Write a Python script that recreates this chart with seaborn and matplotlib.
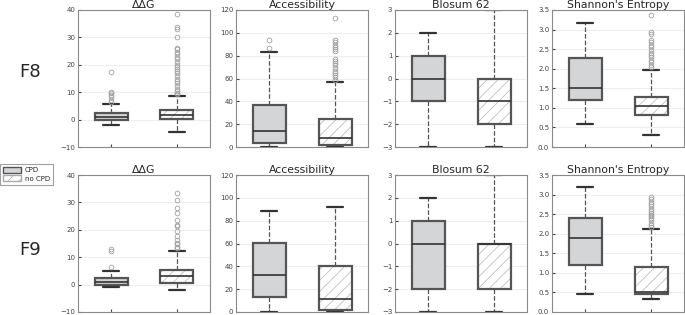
import numpy as np
import matplotlib
matplotlib.use("Agg")
import matplotlib.pyplot as plt
import seaborn as sns
from matplotlib.patches import PathPatch, Patch

# features (columns) and rows
FEATURES = ["\u0394\u0394G", "Accessibility", "Blosum 62", "Shannon's Entropy"]
ROWS = ["F8", "F9"]
GROUPS = ["CPD", "no CPD"]

# y ranges per feature
Y_LIMS = [(-10, 40), (0, 120), (-3, 3), (0, 3.5)]
Y_STEPS = [10, 20, 1, 0.5]

# box statistics, per feature: [CPD, no CPD]
F8_Q1 = [[0.0, 0.1], [3.5, 1.7], [-1, -2], [1.20, 0.82]]
F8_MED = [[1.0, 1.6], [14.0, 8.2], [0, -1], [1.52, 1.04]]
F8_Q3 = [[2.5, 3.6], [36.4, 24.5], [1, 0], [2.27, 1.29]]
F8_LO = [[-2.1, -4.4], [0.0, 0.0], [-3, -3], [0.59, 0.30]]
F8_HI = [[5.6, 8.7], [83.6, 56.5], [2, 3], [3.18, 1.97]]
F8_FLIERS = [
    [[17.3, 10.2, 9.6, 9.0, 8.2, 7.3, 6.6],
     [38.5, 33.9, 32.9, 30.1, 26.2, 25.6, 24.8, 23.8, 22.9, 22.0, 21.1, 20.1,
      19.3, 18.6, 17.7, 16.9, 16.0, 15.0, 14.1, 13.2, 12.3, 11.3, 10.4, 9.8, 9.2]],
    [[94.1, 86.5],
     [113.3, 94.0, 91.8, 89.7, 88.0, 86.0, 84.5, 77.5, 75.7, 73.4, 71.4, 69.0,
      67.0, 65.0, 63.0, 61.0, 59.0]],
    [[], []],
    [[],
     [3.36, 2.93, 2.88, 2.74, 2.67, 2.61, 2.55, 2.48, 2.41, 2.35, 2.29, 2.23,
      2.16, 2.10, 2.04]],
]

F9_Q1 = [[0.0, 0.6], [13.0, 1.7], [-2, -2], [1.19, 0.46]]
F9_MED = [[1.1, 3.0], [32.7, 11.6], [0, 0], [1.90, 0.52]]
F9_Q3 = [[2.4, 5.5], [60.7, 40.5], [1, 0], [2.40, 1.14]]
F9_LO = [[-0.7, -1.9], [0.0, 0.0], [-3, -3], [0.47, 0.32]]
F9_HI = [[5.1, 12.4], [88.2, 92.2], [2, 3], [3.20, 2.11]]
F9_FLIERS = [
    [[13.1, 12.3, 6.5],
     [33.6, 30.9, 27.9, 26.1, 23.4, 21.9, 21.3, 19.5, 17.7, 16.1, 15.3, 14.7,
      13.9, 13.3]],
    [[], []],
    [[], []],
    [[],
     [2.93, 2.88, 2.82, 2.77, 2.70, 2.64, 2.57, 2.53, 2.49, 2.45, 2.40, 2.34,
      2.28, 2.22, 2.17]],
]

ROW_DATA = [
    (F8_Q1, F8_MED, F8_Q3, F8_LO, F8_HI, F8_FLIERS),
    (F9_Q1, F9_MED, F9_Q3, F9_LO, F9_HI, F9_FLIERS),
]

CPD_COLOR = "#d4d5d7"
EDGE = "#555555"

sns.set_style("whitegrid", {
    "axes.edgecolor": "#8a8a8a",
    "grid.color": "#eeeeee",
    "axes.linewidth": 1.0,
    "xtick.bottom": True,
    "ytick.left": True,
})
plt.rcParams["font.family"] = ["DejaVu Sans"]
plt.rcParams["hatch.linewidth"] = 0.5

fig = plt.figure(figsize=(6.85, 3.15), dpi=100)
W, H = 685, 315
lefts = [78, 236, 395, 552]
tops = [10, 175]
aw, ah = 132, 137

for r, (q1s, meds, q3s, los, his, fls) in enumerate(ROW_DATA):
    for c in range(4):
        ax = fig.add_axes([lefts[c] / W, 1 - (tops[r] + ah) / H, aw / W, ah / H])
        stats = []
        for g in range(2):
            stats.append(dict(q1=q1s[c][g], med=meds[c][g], q3=q3s[c][g],
                              whislo=los[c][g], whishi=his[c][g],
                              fliers=fls[c][g]))
        arts = ax.bxp(stats, positions=[1, 2], widths=0.5, patch_artist=True,
                      boxprops=dict(facecolor=CPD_COLOR, edgecolor=EDGE, linewidth=1.6),
                      whiskerprops=dict(color=EDGE, linestyle="--", linewidth=0.9),
                      capprops=dict(color="#333333", linewidth=1.6),
                      medianprops=dict(color="#333333", linewidth=1.2),
                      flierprops=dict(marker="o", markerfacecolor="none",
                                      markeredgecolor="#a0a0a0", markersize=3.4,
                                      markeredgewidth=0.6))
        box = arts["boxes"][1]
        box.set_facecolor("none")
        hp = PathPatch(box.get_path(), facecolor="white", edgecolor="#b5b5b5",
                       hatch="///", linewidth=0, zorder=box.get_zorder() - 0.01)
        ax.add_patch(hp)

        lo, hi = Y_LIMS[c]
        ax.set_ylim(lo, hi)
        ax.set_yticks(np.arange(lo, hi + Y_STEPS[c] / 2, Y_STEPS[c]))
        ax.set_xlim(0.5, 2.5)
        ax.set_xticks([1, 2])
        ax.set_xticklabels([])
        ax.grid(axis="x", visible=False)
        ax.tick_params(axis="y", labelsize=5, length=2, direction="in",
                       colors="#444444", pad=2)
        ax.tick_params(axis="x", length=2, direction="in", color="#444444")
        ax.set_title(FEATURES[c], fontsize=7.8, pad=1.0)

fig.text(30 / W, 1 - 72 / H, ROWS[0], fontsize=13, ha="center", va="center")
fig.text(30 / W, 1 - 250 / H, ROWS[1], fontsize=13, ha="center", va="center")

handles = [Patch(facecolor=CPD_COLOR, edgecolor=EDGE, label=GROUPS[0]),
           Patch(facecolor="white", edgecolor="#aaaaaa", hatch="///", label=GROUPS[1])]
leg = fig.legend(handles=handles, loc="upper left", bbox_to_anchor=(0.0, 1 - 164 / H),
                 fontsize=5, frameon=True, fancybox=False, borderaxespad=0,
                 handlelength=2.6, handleheight=0.9, handletextpad=0.5,
                 borderpad=0.45, labelspacing=0.3)
leg.get_frame().set_edgecolor("#888888")
leg.get_frame().set_linewidth(0.8)

fig.savefig("out.png", dpi=100)
